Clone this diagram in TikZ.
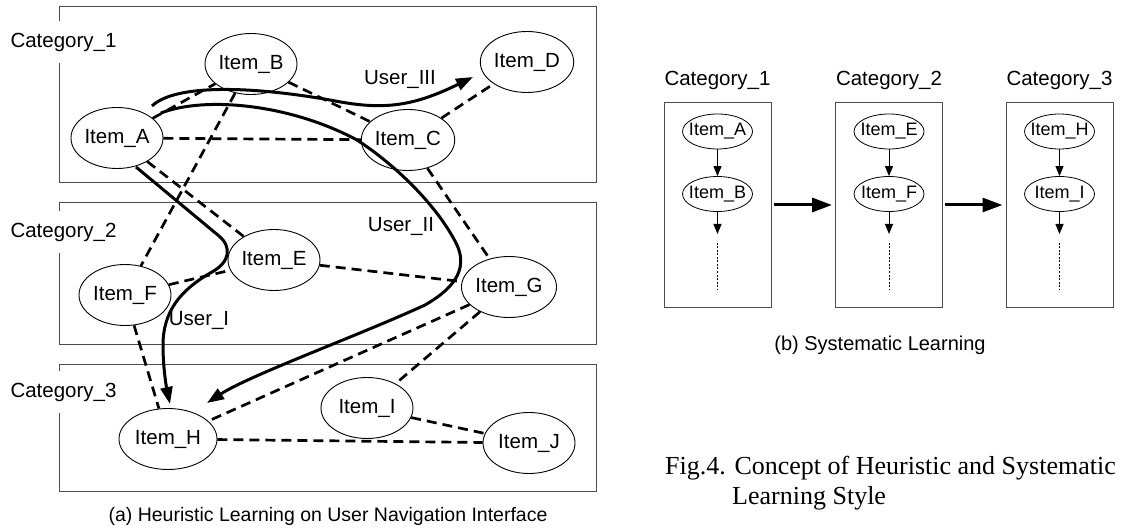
\documentclass[tikz,border=0pt]{standalone}
\usepackage{fontspec}
\setmainfont{Liberation Sans}
\newfontfamily\capfont{Liberation Serif}
\usetikzlibrary{arrows.meta,shapes.geometric}

\begin{document}
\begin{tikzpicture}[x=1pt,y=-1pt,
  panel/.style={draw=black!70,line width=1pt,minimum width=537pt},
  catlabel/.style={fill=white,inner xsep=2pt,minimum height=42pt,font=\fontsize{20.5}{24}\selectfont},
  lbl/.style={font=\fontsize{20.5}{24}\selectfont},
  item/.style={draw,ellipse,fill=white,line width=0.9pt,minimum width=92pt,minimum height=61pt,inner sep=0pt,font=\fontsize{20.5}{24}\selectfont},
  sitem/.style={draw,ellipse,line width=0.8pt,minimum width=70pt,minimum height=35pt,inner xsep=-8pt,inner ysep=0pt,font=\fontsize{18}{21}\selectfont},
  link/.style={line width=2.7pt,dash pattern=on 10pt off 6pt},
  user/.style={line width=3pt,-{Triangle[length=17pt,width=12pt]}},
  flow/.style={line width=1pt,-{Triangle[length=10pt,width=8pt]}},
  bigflow/.style={line width=3pt,-{Triangle[length=20pt,width=14pt]},shorten <=2pt,shorten >=3pt}]
  \useasboundingbox (0,0) rectangle (1121,529);

  % (a) heuristic
  \node[panel,minimum height=176pt] (cat1) at (327.5,95) {};
  \node[panel,minimum height=141pt] (cat2) at (327.5,273.5) {};
  \node[panel,minimum height=127pt] (cat3) at (327.5,427.5) {};
  \node[catlabel] (lc1) at (63.5,42) {Category\_1};
  \node[catlabel] (lc2) at (63.5,232) {Category\_2};
  \node[catlabel] (lc3) at (63.5,392) {Category\_3};

  \node[item] (A) at (117,138) {Item\_A};
  \node[item] (B) at (251,64) {Item\_B};
  \node[item] (C) at (408,140) {Item\_C};
  \node[item] (D) at (527,62) {Item\_D};
  \node[item] (E) at (274,260) {Item\_E};
  \node[item] (F) at (125,295) {Item\_F};
  \node[item] (G) at (509,287) {Item\_G};
  \node[item,minimum width=98pt] (H) at (168,439) {Item\_H};
  \node[item] (I) at (367,408) {Item\_I};
  \node[item] (J) at (529,443) {Item\_J};

  \foreach \s/\t in {A/B,A/C,B/C,C/D,B/F,A/E,C/G,F/E,E/G,F/H,G/H,G/I,I/J,H/J}
    \draw[link] (\s) -- (\t);

  \coordinate (u1s) at (136,167);
  \coordinate (u1e) at (170,404);
  \coordinate (u2s) at (161,113);
  \coordinate (u2e) at (207,403);
  \coordinate (u3s) at (152,106);
  \coordinate (u3e) at (473,77);
  \draw[user] (u1s) -- (219,236) .. controls (232,247) and (230,262) .. (212,272)
    .. controls (180,290) and (163,312) .. (163,345) .. controls (163,370) and (167,390) .. (u1e);
  \draw[user] (u2s) .. controls (205,96) and (290,104) .. (357,140)
    .. controls (400,168) and (440,210) .. (457,245) .. controls (466,265) and (460,285) .. (425,305)
    .. controls (360,335) and (250,375) .. (u2e);
  \draw[user] (u3s) .. controls (175,84) and (250,86) .. (330,100)
    .. controls (380,110) and (410,108) .. (u3e);
  \node[lbl] (lu1) at (199,320) {User\_I};
  \node[lbl] (lu2) at (401,226) {User\_II};
  \node[lbl] (lu3) at (400,79) {User\_III};

  \node[font=\fontsize{19.5}{23}\selectfont] (capa) at (328,516) {(a) Heuristic Learning on User Navigation Interface};

  % (b) systematic
  \foreach \n/\x/\a/\b in {1/717.5/A/B,2/889/E/F,3/1059.5/H/I} {
    \node[panel,minimum width=107pt,minimum height=204pt] (r\n) at (\x,205) {};
    \node[lbl] (rc\n) at (\x,80) {Category\_\n};
    \node[sitem] (ra\n) at (\x,131.5) {Item\_\a};
    \node[sitem] (rb\n) at (\x,194) {Item\_\b};
    \coordinate (rend\n) at (\x,234);
    \draw[flow] (ra\n) -- (rb\n);
    \draw[flow] (rb\n) -- (rend\n);
    \draw[line width=1pt,dash pattern=on 2pt off 1.5pt] (\x,243) -- (\x,290);
  }
  \draw[bigflow] (r1) -- (r2);
  \draw[bigflow] (r2) -- (r3);
  \node[font=\fontsize{20}{24}\selectfont] (capb) at (880,345) {(b) Systematic Learning};

  \node[anchor=base west,inner sep=0pt,font=\capfont\fontsize{26}{30}\selectfont] (fig1) at (665,474) {Fig.4. Concept of Heuristic and Systematic};
  \node[anchor=base west,inner sep=0pt,font=\capfont\fontsize{26}{30}\selectfont] (fig2) at (732,504) {Learning Style};
\end{tikzpicture}
\end{document}
